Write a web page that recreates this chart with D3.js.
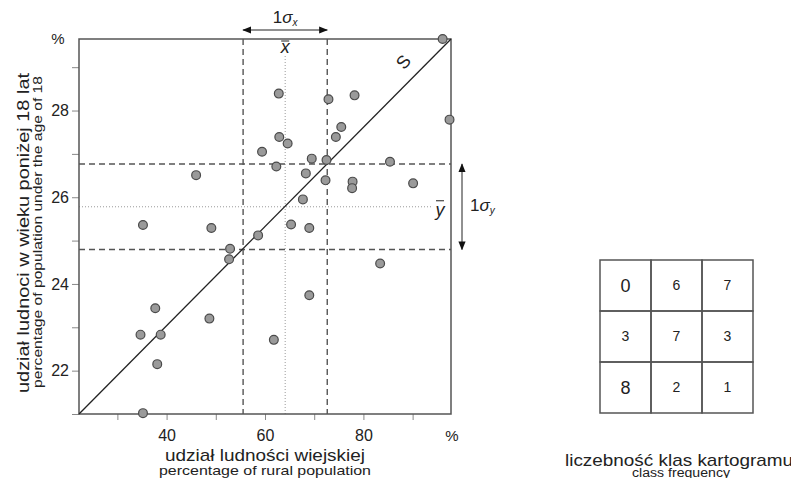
<!DOCTYPE html>
<html>
<head>
<meta charset="utf-8">
<script src="https://cdn.jsdelivr.net/npm/d3@7"></script>
<style>
  body { margin: 0; background: #fff; }
  text { font-family: "Liberation Sans", Arial, sans-serif; fill: #222; }
</style>
</head>
<body>
<svg id="chart" width="791" height="478"></svg>
<script>
// rural share (%) vs share of population under 18 (%)
const rural = [96.1, 97.5, 62.8, 72.9, 78.2, 75.5, 62.9, 64.6, 74.4, 59.4, 69.5, 72.5, 62.3,
  85.4, 68.3, 72.3, 77.8, 77.7, 90.1, 67.7, 46.0, 65.3, 69.0, 58.6, 83.4, 69.0, 61.8, 35.2,
  49.1, 52.9, 52.7, 37.7, 48.7, 34.7, 38.8, 38.1, 35.2];
const youth = [29.65, 27.79, 28.39, 28.26, 28.35, 27.62, 27.39, 27.24, 27.39, 27.05, 26.89, 26.86, 26.71,
  26.82, 26.55, 26.39, 26.36, 26.21, 26.32, 25.95, 26.51, 25.37, 25.29, 25.12, 24.47, 23.74, 22.71, 25.36,
  25.29, 24.81, 24.57, 23.44, 23.20, 22.83, 22.83, 22.15, 21.02];

const xDomain = [22.2, 97.8];
const yDomain = [21, 29.65];
const xTicks = [30, 40, 50, 60, 70, 80, 90];
const xLabels = [40, 60, 80];
const yTicks = [21, 22, 23, 24, 25, 26, 27, 28, 29];
const yLabels = [22, 24, 26, 28];

// mean and standard deviation: [x, y]
const means = [64.1, 25.78];
const sds = [17.1, 1.97];

const classCounts = [
  [0, 6, 7],
  [3, 7, 3],
  [8, 2, 1]
];

const svg = d3.select('#chart');
const plot = { left: 79, right: 451, top: 39, bottom: 414 };

const x = d3.scaleLinear().domain(xDomain).range([plot.left, plot.right]);
const y = d3.scaleLinear().domain(yDomain).range([plot.bottom, plot.top]);

const axisColor = '#555';

// axes
const xAxis = svg.append('g')
  .attr('transform', `translate(0,${plot.bottom})`)
  .call(d3.axisBottom(x).tickValues(xTicks).tickSize(6).tickPadding(10)
    .tickFormat((d) => (xLabels.includes(d) ? d : '')));
const yAxis = svg.append('g')
  .attr('transform', `translate(${plot.left},0)`)
  .call(d3.axisLeft(y).tickValues(yTicks).tickSize(7).tickPadding(3)
    .tickFormat((d) => (yLabels.includes(d) ? d : '')));
[xAxis, yAxis].forEach((g) => {
  g.select('.domain').remove();
  g.selectAll('line').attr('stroke', '#888');
  g.selectAll('text').attr('font-size', 16).style('font-family', '"Liberation Sans", Arial, sans-serif').attr('fill', '#222');
});

// dotted mean lines
svg.append('line')
  .attr('x1', x(means[0])).attr('x2', x(means[0]))
  .attr('y1', 56).attr('y2', plot.bottom)
  .attr('stroke', '#999').attr('stroke-width', 1).attr('stroke-dasharray', '1,2');
svg.append('line')
  .attr('x1', plot.left).attr('x2', 432)
  .attr('y1', y(means[1])).attr('y2', y(means[1]))
  .attr('stroke', '#999').attr('stroke-width', 1).attr('stroke-dasharray', '1,2');

// dashed class borders at mean +/- sd/2
[-0.5, 0.5].forEach((k) => {
  const xv = x(means[0] + k * sds[0]);
  const yv = y(means[1] + k * sds[1]);
  svg.append('line')
    .attr('x1', xv).attr('x2', xv).attr('y1', plot.top).attr('y2', plot.bottom)
    .attr('stroke', axisColor).attr('stroke-width', 1.4).attr('stroke-dasharray', '6,4');
  svg.append('line')
    .attr('x1', plot.left).attr('x2', plot.right).attr('y1', yv).attr('y2', yv)
    .attr('stroke', axisColor).attr('stroke-width', 1.4).attr('stroke-dasharray', '6,4');
});

// frame
svg.append('rect')
  .attr('x', plot.left).attr('y', plot.top)
  .attr('width', plot.right - plot.left).attr('height', plot.bottom - plot.top)
  .attr('fill', 'none').attr('stroke', axisColor).attr('stroke-width', 1.5);

// diagonal S
svg.append('line')
  .attr('x1', x(xDomain[0])).attr('y1', y(yDomain[0]))
  .attr('x2', x(xDomain[1])).attr('y2', y(yDomain[1]))
  .attr('stroke', '#222').attr('stroke-width', 1.3);
svg.append('text')
  .attr('transform', 'translate(408,66) rotate(-50)')
  .attr('text-anchor', 'middle').attr('font-size', 18).text('S');

// points
svg.append('g').selectAll('circle')
  .data(rural.map((r, i) => [r, youth[i]]))
  .join('circle')
  .attr('cx', (d) => x(d[0]))
  .attr('cy', (d) => y(d[1]))
  .attr('r', 4.4)
  .attr('fill', '#9a9a9a')
  .attr('stroke', '#4a4a4a')
  .attr('stroke-width', 1.2);

// sigma arrows
const defs = svg.append('defs');
defs.append('marker')
  .attr('id', 'arr').attr('viewBox', '0 0 10 10').attr('refX', 9).attr('refY', 5)
  .attr('markerWidth', 9).attr('markerHeight', 9).attr('orient', 'auto-start-reverse')
  .attr('markerUnits', 'userSpaceOnUse')
  .append('path').attr('d', 'M0,1 L10,5 L0,9 Z').attr('fill', '#111');

const xs0 = x(means[0] - sds[0] / 2);
const xs1 = x(means[0] + sds[0] / 2);
svg.append('line')
  .attr('x1', xs0).attr('x2', xs1).attr('y1', 30).attr('y2', 30)
  .attr('stroke', '#222').attr('stroke-width', 1)
  .attr('marker-start', 'url(#arr)').attr('marker-end', 'url(#arr)');
const sx = svg.append('text').attr('x', (xs0 + xs1) / 2).attr('y', 23)
  .attr('text-anchor', 'middle').attr('font-size', 17);
sx.append('tspan').text('1');
sx.append('tspan').attr('font-style', 'italic').text('σ');
sx.append('tspan').attr('font-style', 'italic').attr('font-size', 10).attr('dy', 3).text('x');

const ys0 = y(means[1] + sds[1] / 2);
const ys1 = y(means[1] - sds[1] / 2);
svg.append('line')
  .attr('x1', 462).attr('x2', 462).attr('y1', ys0).attr('y2', ys1)
  .attr('stroke', '#222').attr('stroke-width', 1)
  .attr('marker-start', 'url(#arr)').attr('marker-end', 'url(#arr)');
const sy = svg.append('text').attr('x', 470).attr('y', 211)
  .attr('font-size', 17);
sy.append('tspan').text('1');
sy.append('tspan').attr('font-style', 'italic').text('σ');
sy.append('tspan').attr('font-style', 'italic').attr('font-size', 10).attr('dy', 3).text('y');

// mean labels with overbar
svg.append('text').attr('x', x(means[0])).attr('y', 53)
  .attr('text-anchor', 'middle').attr('font-size', 18).attr('font-style', 'italic').text('x');
svg.append('line').attr('x1', x(means[0]) - 4).attr('x2', x(means[0]) + 4)
  .attr('y1', 41).attr('y2', 41).attr('stroke', '#222').attr('stroke-width', 1);
svg.append('text').attr('x', 440).attr('y', y(means[1]) + 9)
  .attr('text-anchor', 'middle').attr('font-size', 18).attr('font-style', 'italic').text('y');
svg.append('line').attr('x1', 436).attr('x2', 444)
  .attr('y1', y(means[1]) - 6).attr('y2', y(means[1]) - 6).attr('stroke', '#222').attr('stroke-width', 1);

// unit labels
svg.append('text').attr('x', 58).attr('y', 44).attr('text-anchor', 'middle').attr('font-size', 15).text('%');
svg.append('text').attr('x', 452).attr('y', 441).attr('text-anchor', 'middle').attr('font-size', 15).text('%');

// axis titles (widths fitted to the reference lettering)
const title = (sel, len) => sel.attr('textLength', len).attr('lengthAdjust', 'spacingAndGlyphs');
title(svg.append('text').attr('x', 265).attr('y', 461).attr('text-anchor', 'middle')
  .attr('font-size', 17).text('udział ludności wiejskiej'), 200);
title(svg.append('text').attr('x', 265).attr('y', 475).attr('text-anchor', 'middle')
  .attr('font-size', 13).text('percentage of rural population'), 212);
title(svg.append('text').attr('transform', 'translate(29,233) rotate(-90)').attr('text-anchor', 'middle')
  .attr('font-size', 17).text('udział ludnoci w wieku poniżej 18 lat'), 320);
title(svg.append('text').attr('transform', 'translate(42,232) rotate(-90)').attr('text-anchor', 'middle')
  .attr('font-size', 13.5).text('percentage of population under the age of 18'), 312);

// class frequency grid
const grid = { left: 600, top: 260, size: 153 };
const gx = d3.scaleBand().domain([0, 1, 2]).range([grid.left, grid.left + grid.size]);
const gy = d3.scaleBand().domain([0, 1, 2]).range([grid.top, grid.top + grid.size]);
const cells = classCounts.flatMap((row, r) => row.map((v, c) => ({ r, c, v })));
const cellG = svg.append('g');
cellG.selectAll('rect').data(cells).join('rect')
  .attr('x', (d) => gx(d.c)).attr('y', (d) => gy(d.r))
  .attr('width', gx.bandwidth()).attr('height', gy.bandwidth())
  .attr('fill', 'none').attr('stroke', axisColor).attr('stroke-width', 1.5);
cellG.selectAll('text').data(cells).join('text')
  .attr('x', (d) => gx(d.c) + gx.bandwidth() / 2)
  .attr('y', (d) => gy(d.r) + gy.bandwidth() / 2)
  .attr('dy', '0.35em').attr('text-anchor', 'middle')
  .attr('font-size', (d) => (d.c === 0 && d.r !== 1 ? 18 : 14))
  .text((d) => d.v);

title(svg.append('text').attr('x', 679).attr('y', 466).attr('text-anchor', 'middle')
  .attr('font-size', 17).text('liczebność klas kartogramu'), 228);
title(svg.append('text').attr('x', 681).attr('y', 477).attr('text-anchor', 'middle')
  .attr('font-size', 12.5).text('class frequency'), 98);
</script>
</body>
</html>
